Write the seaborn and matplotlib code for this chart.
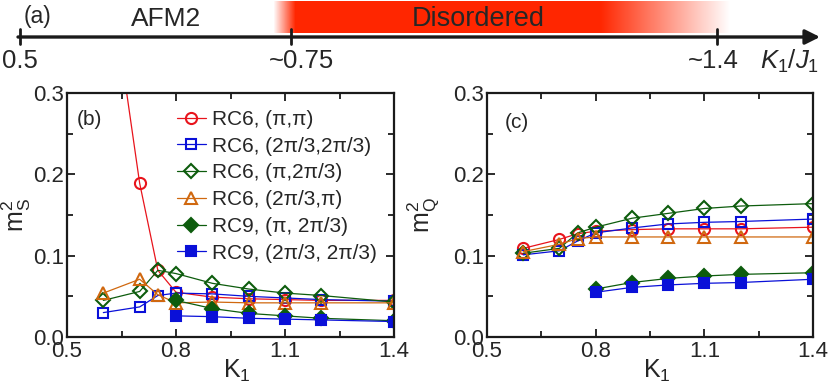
import numpy as np
import matplotlib
matplotlib.use('Agg')
import matplotlib.pyplot as plt
from matplotlib.ticker import FormatStrFormatter
import seaborn as sns

# ---- data ----
K_rc6 = [0.6, 0.7, 0.75, 0.8, 0.9, 1.0, 1.1, 1.2, 1.4]
K_rc9 = [0.8, 0.9, 1.0, 1.1, 1.2, 1.4]

ms2_rc6_pipi = [0.50, 0.189, 0.082, 0.055, 0.049, 0.047, 0.046, 0.045, 0.045]
ms2_rc6_sq = [0.030, 0.037, 0.051, 0.054, 0.053, 0.050, 0.048, 0.046, 0.044]
ms2_rc6_pi23 = [0.045, 0.056, 0.082, 0.078, 0.066, 0.059, 0.054, 0.051, 0.043]
ms2_rc6_23pi = [0.054, 0.071, 0.052, 0.042, 0.043, 0.042, 0.042, 0.042, 0.042]
ms2_rc9_pi23 = [0.045, 0.035, 0.029, 0.026, 0.023, 0.020]
ms2_rc9_sq = [0.026, 0.025, 0.023, 0.022, 0.021, 0.019]

mq2_rc6_pipi = [0.109, 0.120, 0.127, 0.130, 0.132, 0.133, 0.133, 0.133, 0.135]
mq2_rc6_sq = [0.101, 0.106, 0.118, 0.128, 0.134, 0.139, 0.141, 0.142, 0.145]
mq2_rc6_pi23 = [0.103, 0.109, 0.128, 0.135, 0.146, 0.152, 0.158, 0.161, 0.164]
mq2_rc6_23pi = [0.105, 0.114, 0.121, 0.123, 0.123, 0.123, 0.123, 0.123, 0.123]
mq2_rc9_pi23 = [0.059, 0.067, 0.072, 0.075, 0.077, 0.079]
mq2_rc9_sq = [0.055, 0.061, 0.064, 0.066, 0.067, 0.071]

series_labels = ['RC6, (π,π)', 'RC6, (2π/3,2π/3)', 'RC6, (π,2π/3)',
                 'RC6, (2π/3,π)', 'RC9, (π, 2π/3)', 'RC9, (2π/3, 2π/3)']

phase_names = ['AFM2', 'Disordered']
phase_ticks = ['0.5', '~0.75', '~1.4']

x_major = [0.5, 0.8, 1.1, 1.4]
x_minor = [0.65, 0.95, 1.25]
y_major = [0.0, 0.1, 0.2, 0.3]
y_minor = [0.05, 0.15, 0.25]

# ---- styles ----
RED = '#e8141c'
BLUE = '#0a10d8'
GREEN = '#0d5c0d'
ORANGE = '#d0680f'
styles = [
    dict(color=RED, marker='o', ms=8, mfc='none'),
    dict(color=BLUE, marker='s', ms=7, mfc='none'),
    dict(color=GREEN, marker='D', ms=7, mfc='none'),
    dict(color=ORANGE, marker='^', ms=8.5, mfc='none'),
    dict(color=GREEN, marker='D', ms=7, mfc=GREEN),
    dict(color=BLUE, marker='s', ms=7.5, mfc=BLUE),
]

sns.set_theme(style='ticks')
plt.rcParams['font.family'] = ['Liberation Sans', 'DejaVu Sans']
plt.rcParams['mathtext.fontset'] = 'custom'
plt.rcParams['mathtext.rm'] = 'Liberation Sans'
plt.rcParams['mathtext.it'] = 'Liberation Sans:italic'

fig = plt.figure(figsize=(8.3, 3.89), dpi=100)

# ---- (a) schematic phase line, in pixel coordinates ----
ax_a = fig.add_axes([0, 0, 1, 1], zorder=0)
ax_a.axis('off')

xs = np.arange(273, 731)
alpha = np.interp(xs, [273, 295, 600, 730], [0, 1, 1, 0])
grad = np.zeros((1, len(xs), 4))
grad[0, :, 0] = 1.0
grad[0, :, 1] = 0.15
grad[0, :, 3] = alpha
ax_a.imshow(grad, extent=(273, 730, 33, 1), aspect='auto', interpolation='bilinear')
ax_a.set_xlim(0, 830)
ax_a.set_ylim(389, 0)

line_y = 37
ax_a.annotate('', xy=(820, line_y), xytext=(18, line_y),
              arrowprops=dict(arrowstyle='-|>', lw=2.4, color='k',
                              mutation_scale=22, shrinkA=0, shrinkB=0))
tick_px = [20, 291, 717]
label_px = [20, 301, 713]
for tx, lx, lab in zip(tick_px, label_px, phase_ticks):
    ax_a.plot([tx, tx], [29, 44], color='k', lw=2)
    ax_a.text(lx, 61, lab, ha='center', va='center', fontsize=18.5)
ax_a.text(790, 61, r'$K_1/J_1$', ha='center', va='center', fontsize=18.5)
ax_a.text(37, 16, '(a)', ha='center', va='center', fontsize=16.5)
ax_a.text(166, 19, phase_names[0], ha='center', va='center', fontsize=19)
ax_a.text(478, 19, phase_names[1], ha='center', va='center', fontsize=19.5)

# ---- (b) and (c) ----
ax_b = fig.add_axes([67 / 830, 52 / 389, 327 / 830, 244 / 389], zorder=1)
ax_c = fig.add_axes([487 / 830, 52 / 389, 326 / 830, 244 / 389], zorder=1)

ms_sets = [ms2_rc6_pipi, ms2_rc6_sq, ms2_rc6_pi23, ms2_rc6_23pi, ms2_rc9_pi23, ms2_rc9_sq]
mq_sets = [mq2_rc6_pipi, mq2_rc6_sq, mq2_rc6_pi23, mq2_rc6_23pi, mq2_rc9_pi23, mq2_rc9_sq]
xs_sets = [K_rc6, K_rc6, K_rc6, K_rc6, K_rc9, K_rc9]

for ax, ysets in [(ax_b, ms_sets), (ax_c, mq_sets)]:
    for xv, yv, st, lab in zip(xs_sets, ysets, styles, series_labels):
        sns.lineplot(x=xv, y=yv, ax=ax, color=st['color'], lw=0.9,
                     marker=st['marker'], markersize=st['ms'],
                     markerfacecolor=st['mfc'], markeredgecolor=st['color'],
                     markeredgewidth=1.5, label=lab, legend=False)
    ax.set_xlim(0.5, 1.4)
    ax.set_ylim(0, 0.3)
    ax.set_xticks(x_major)
    ax.set_xticks(x_minor, minor=True)
    ax.set_yticks(y_major)
    ax.set_yticks(y_minor, minor=True)
    ax.yaxis.set_major_formatter(FormatStrFormatter('%.1f'))
    ax.tick_params(which='both', direction='in', top=True, right=True,
                   width=1.3, labelsize=16, color='k')
    ax.tick_params(which='major', length=6)
    ax.tick_params(which='minor', length=4)
    ax.tick_params(axis='x', pad=3)
    ax.tick_params(axis='y', pad=2)
    for sp in ax.spines.values():
        sp.set_linewidth(1.6)
        sp.set_color('k')
    ax.set_xlabel(r'K$_1$', fontsize=18)
    ax.xaxis.set_label_coords(0.52, -0.085)

ax_b.set_ylabel(r'm$_\mathrm{S}^2$', fontsize=18)
ax_b.yaxis.set_label_coords(-0.105, 0.5)
ax_c.set_ylabel(r'm$_\mathrm{Q}^2$', fontsize=18)
ax_c.yaxis.set_label_coords(-0.14, 0.5)

ax_b.text(0.07, 0.89, '(b)', transform=ax_b.transAxes, ha='center', va='center', fontsize=15)
ax_c.text(0.092, 0.88, '(c)', transform=ax_c.transAxes, ha='center', va='center', fontsize=15)

h, l = ax_b.get_legend_handles_labels()
ax_b.legend(h, l, loc='upper left', bbox_to_anchor=(0.335, 0.93), frameon=False,
            fontsize=15, handlelength=1.4, handletextpad=0.3, labelspacing=0.37,
            borderaxespad=0, borderpad=0)

fig.savefig('out.png', dpi=100)
